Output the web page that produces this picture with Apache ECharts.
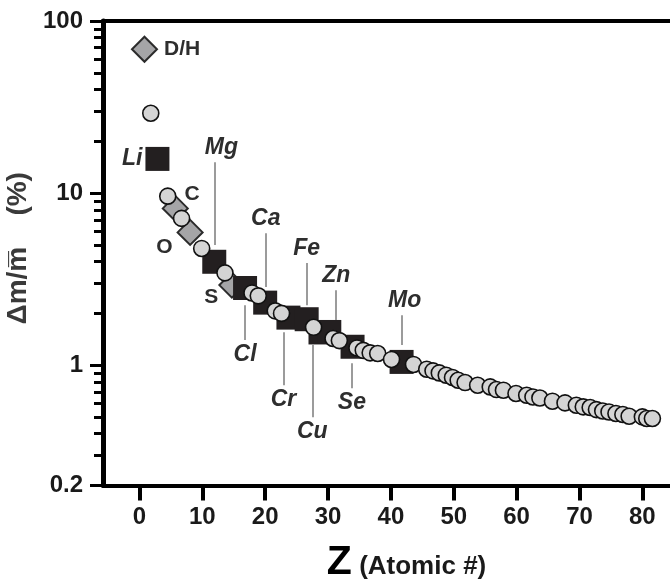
<!DOCTYPE html>
<html>
<head>
<meta charset="utf-8">
<script src="https://cdn.jsdelivr.net/npm/echarts@6/dist/echarts.min.js"></script>
<style>html,body{margin:0;padding:0;background:#fff}#c{width:670px;height:583px}</style>
</head>
<body>
<div id="c"></div>
<script>
// ---- data ----
const circleZ = [1.8, 4.5, 6.7, 9.9, 13.6, 17.9, 18.9, 21.6, 22.6, 27.7, 30.8, 31.8, 34.6, 35.6, 36.7, 37.9, 40.1, 43.6,
  45.7, 46.7, 47.7, 48.8, 49.8, 50.7, 51.8, 53.8, 55.8, 56.8, 57.9, 59.9, 61.6, 62.6, 63.7, 65.7, 67.7,
  69.5, 70.6, 71.7, 72.7, 73.7, 74.7, 75.8, 76.9, 77.9, 80.0, 80.7, 81.6];
const circleV = [29.1, 9.6, 7.13, 4.77, 3.44, 2.63, 2.53, 2.07, 2.00, 1.66, 1.43, 1.39, 1.26, 1.22, 1.18, 1.17, 1.08, 1.01,
  0.948, 0.927, 0.902, 0.875, 0.848, 0.818, 0.793, 0.765, 0.748, 0.722, 0.716, 0.685, 0.669, 0.654, 0.645, 0.618, 0.604,
  0.585, 0.573, 0.568, 0.552, 0.542, 0.535, 0.524, 0.517, 0.505, 0.501, 0.490, 0.490];
const circleNames = ['', 'C'];

const squareZ = [2.86, 11.9, 16.8, 20.0, 23.7, 26.6, 28.8, 30.2, 33.9, 41.7];
const squareV = [15.8, 3.99, 2.81, 2.31, 1.89, 1.85, 1.55, 1.56, 1.28, 1.045];
const squareNames = ['Li'];

const diamondZ = [0.8, 5.7, 8.06, 14.7];
const diamondV = [68.5, 8.15, 5.91, 2.92];
const diamondNames = ['D/H', '', 'O', 'S'];

const leaderNames = ['Mg', 'Ca', 'Fe', 'Zn', 'Mo', 'Cl', 'Cr', 'Cu', 'Se'];
const leaderZ = [11.92, 20.1, 26.6, 31.3, 41.7, 16.8, 22.9, 27.5, 33.8];
const leaderFrom = [4.99, 2.85, 2.23, 1.83, 1.31, 2.23, 1.556, 1.31, 1.027];
const leaderTo = [15.1, 5.85, 3.92, 2.73, 1.95, 1.40, 0.765, 0.499, 0.735];

const xTicks = [0, 10, 20, 30, 40, 50, 60, 70, 80];
const yLabels = [0.2, 1, 10, 100];
const yMinorTicks = [0.3, 0.4, 0.5, 0.6, 0.7, 0.8, 0.9, 2, 3, 4, 5, 6, 7, 8, 9, 20, 30, 40, 50, 60, 70, 80, 90];

// ---- styles ----
const FONT = 'Liberation Sans, Arial, sans-serif';
const plainLabel = {fontFamily: FONT, fontWeight: 'bold', fontSize: 21, color: '#2e2e2e'};
const italicLabel = {fontFamily: FONT, fontWeight: 'bold', fontStyle: 'italic', fontSize: 23, color: '#2e2e2e'};
const pointLabelStyle = {
  'D/H': Object.assign({position: 'right', distance: 6}, plainLabel),
  'O': Object.assign({position: 'left', distance: 4, offset: [0, 15]}, plainLabel),
  'S': Object.assign({position: 'left', distance: 0, offset: [0, 12]}, plainLabel),
  'C': Object.assign({position: 'right', distance: 8, offset: [0, -2]}, plainLabel),
  'Li': Object.assign({position: 'left', distance: 3}, italicLabel)
};
const leaderLabelShift = {'Mg': [0, 0, 0, 14], 'Mo': [0, 0, 0, 6]};
function build(zs, vs, names) {
  return zs.map((z, i) => {
    const n = names[i] || '';
    const item = {value: [z, vs[i]], name: n};
    if (n && pointLabelStyle[n]) {
      item.label = Object.assign({show: true, formatter: n}, pointLabelStyle[n]);
    }
    return item;
  });
}

const leaderData = leaderNames.map((n, i) => {
  const start = {coord: [leaderZ[i], leaderFrom[i]], name: n};
  if (leaderLabelShift[n]) start.label = {padding: leaderLabelShift[n]};
  return [start, {coord: [leaderZ[i], leaderTo[i]], name: n}];
});

const chart = echarts.init(document.getElementById('c'), null, {renderer: 'canvas'});
const tickLabel = {fontFamily: FONT, fontWeight: 'bold', fontSize: 24, color: '#1a1a1a'};

chart.setOption({
  animation: false,
  backgroundColor: '#fff',
  grid: {left: 103, right: 0, top: 21, bottom: 97.5, containLabel: false, outerBoundsMode: 'none'},
  xAxis: [{
    type: 'value', min: -5.8, max: 84.4, position: 'bottom',
    axisLine: {show: true, onZero: false, lineStyle: {color: '#000', width: 4}},
    axisTick: {show: true, customValues: xTicks, length: 15, lineStyle: {color: '#000', width: 4}},
    axisLabel: Object.assign({show: true, customValues: xTicks, margin: 20}, tickLabel),
    splitLine: {show: false},
    name: '{z|Z} {a|(Atomic #)}', nameLocation: 'middle', nameGap: 57,
    nameTextStyle: {
      padding: [0, 0, 0, 40],
      rich: {
        z: {fontFamily: FONT, fontWeight: 'bold', fontSize: 41, color: '#000'},
        a: {fontFamily: FONT, fontWeight: 'bold', fontSize: 26, color: '#1a1a1a', padding: [8, 0, 0, 4]}
      }
    }
  }, {
    type: 'value', min: -5.8, max: 84.4, position: 'top',
    axisLine: {show: true, onZero: false, lineStyle: {color: '#000', width: 4}},
    axisTick: {show: false}, axisLabel: {show: false}, splitLine: {show: false}
  }],
  yAxis: [{
    type: 'log', logBase: 10, min: 0.2, max: 100, position: 'left',
    axisLine: {show: true, onZero: false, lineStyle: {color: '#000', width: 5}},
    axisTick: {show: true, customValues: yLabels, length: 13, lineStyle: {color: '#000', width: 3}},
    axisLabel: Object.assign({show: true, customValues: yLabels, margin: 20,
      formatter: v => String(Math.round(v * 10) / 10)}, tickLabel),
    splitLine: {show: false},
    name: 'Δm/m̅    (%)', nameLocation: 'middle', nameGap: 60,
    nameTextStyle: {fontFamily: FONT, fontWeight: 'bold', fontSize: 28, color: '#3a3a3a', padding: [0, 0, 0, 10]}
  }, {
    type: 'log', logBase: 10, min: 0.2, max: 100, position: 'left',
    axisLine: {show: false, onZero: false},
    axisTick: {show: true, customValues: yMinorTicks, length: 9, lineStyle: {color: '#000', width: 3}},
    axisLabel: {show: false}, splitLine: {show: false}
  }],
  series: [{
    type: 'scatter', name: 'diamonds', xAxisIndex: 0, yAxisIndex: 0,
    symbol: 'diamond', symbolSize: 25, z: 2,
    itemStyle: {color: '#a5a5a7', borderColor: '#2b2b2b', borderWidth: 2, opacity: 1},
    data: build(diamondZ, diamondV, diamondNames)
  }, {
    type: 'scatter', name: 'squares', xAxisIndex: 0, yAxisIndex: 0,
    symbol: 'rect', symbolSize: 24, z: 3,
    itemStyle: {color: '#231f20', opacity: 1},
    data: build(squareZ, squareV, squareNames),
    markLine: {
      silent: true, symbol: ['none', 'none'], animation: false,
      lineStyle: {color: '#9b9b9b', width: 2, type: 'solid'},
      label: Object.assign({show: true, position: 'end', distance: 3, formatter: p => p.name}, italicLabel),
      emphasis: {disabled: true},
      data: leaderData
    }
  }, {
    type: 'scatter', name: 'circles', xAxisIndex: 0, yAxisIndex: 0,
    symbol: 'circle', symbolSize: 16, z: 4,
    itemStyle: {color: '#d4d4d4', borderColor: '#111', borderWidth: 1.6, opacity: 1},
    data: build(circleZ, circleV, circleNames)
  }]
});
</script>
</body>
</html>
